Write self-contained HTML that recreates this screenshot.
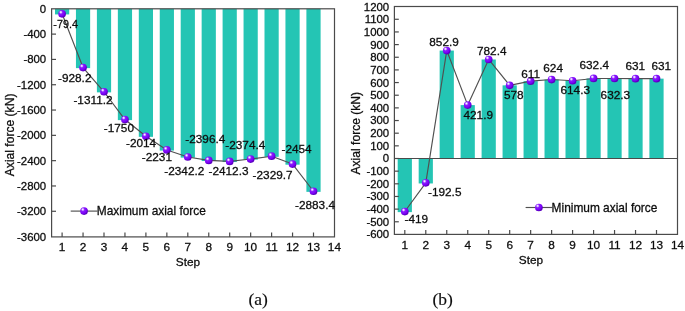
<!DOCTYPE html>
<html lang="en"><head><meta charset="utf-8"><title>Axial force per step</title>
<style>
html,body{margin:0;padding:0;background:#fff;}
body{width:685px;height:311px;overflow:hidden;}
svg{display:block;will-change:transform;opacity:0.999;}
text{font-family:"Liberation Sans",Arial,sans-serif;font-size:11.8px;fill:#0d0d0d;stroke:#0d0d0d;stroke-width:0.28px;}
.yt text{font-size:11.4px;}
.cap{font-family:"Liberation Serif","Times New Roman",serif;font-size:17.5px;fill:#0d0d0d;stroke-width:0.15px;}
</style></head><body>
<svg width="685" height="311" viewBox="0 0 685 311">
<defs>
<radialGradient id="ball" cx="0.36" cy="0.32" r="0.62" fx="0.33" fy="0.28">
<stop offset="0" stop-color="#ffffff"/>
<stop offset="0.12" stop-color="#e9d6ff"/>
<stop offset="0.38" stop-color="#8a1bff"/>
<stop offset="0.8" stop-color="#7a00f5"/>
<stop offset="1" stop-color="#5a00c0"/>
</radialGradient>
</defs>
<rect width="685" height="311" fill="#ffffff"/>

<g fill="#24c5b4">
<rect x="55.00" y="8.80" width="14.20" height="5.62"/>
<rect x="75.95" y="8.80" width="14.20" height="59.33"/>
<rect x="96.90" y="8.80" width="14.20" height="83.57"/>
<rect x="117.85" y="8.80" width="14.20" height="111.33"/>
<rect x="138.80" y="8.80" width="14.20" height="128.04"/>
<rect x="159.75" y="8.80" width="14.20" height="141.77"/>
<rect x="180.70" y="8.80" width="14.20" height="148.80"/>
<rect x="201.65" y="8.80" width="14.20" height="152.23"/>
<rect x="222.60" y="8.80" width="14.20" height="153.24"/>
<rect x="243.55" y="8.80" width="14.20" height="150.84"/>
<rect x="264.50" y="8.80" width="14.20" height="148.01"/>
<rect x="285.45" y="8.80" width="14.20" height="155.88"/>
<rect x="306.40" y="8.80" width="14.20" height="183.05"/>
</g>
<g stroke="#4a4a4a" stroke-width="1.2" fill="none">
<rect x="51.60" y="8.80" width="282.90" height="228.10"/>
<line x1="62.10" y1="236.90" x2="62.10" y2="232.50"/>
<line x1="83.05" y1="236.90" x2="83.05" y2="232.50"/>
<line x1="104.00" y1="236.90" x2="104.00" y2="232.50"/>
<line x1="124.95" y1="236.90" x2="124.95" y2="232.50"/>
<line x1="145.90" y1="236.90" x2="145.90" y2="232.50"/>
<line x1="166.85" y1="236.90" x2="166.85" y2="232.50"/>
<line x1="187.80" y1="236.90" x2="187.80" y2="232.50"/>
<line x1="208.75" y1="236.90" x2="208.75" y2="232.50"/>
<line x1="229.70" y1="236.90" x2="229.70" y2="232.50"/>
<line x1="250.65" y1="236.90" x2="250.65" y2="232.50"/>
<line x1="271.60" y1="236.90" x2="271.60" y2="232.50"/>
<line x1="292.55" y1="236.90" x2="292.55" y2="232.50"/>
<line x1="313.50" y1="236.90" x2="313.50" y2="232.50"/>
<line x1="51.60" y1="34.11" x2="56.00" y2="34.11"/>
<line x1="51.60" y1="59.42" x2="56.00" y2="59.42"/>
<line x1="51.60" y1="84.73" x2="56.00" y2="84.73"/>
<line x1="51.60" y1="110.04" x2="56.00" y2="110.04"/>
<line x1="51.60" y1="135.35" x2="56.00" y2="135.35"/>
<line x1="51.60" y1="160.66" x2="56.00" y2="160.66"/>
<line x1="51.60" y1="185.97" x2="56.00" y2="185.97"/>
<line x1="51.60" y1="211.28" x2="56.00" y2="211.28"/>
</g>
<g class="yt" text-anchor="end">
<text x="46.2" y="12.7">0</text>
<text x="46.2" y="38.0">-400</text>
<text x="46.2" y="63.3">-800</text>
<text x="46.2" y="88.6">-1200</text>
<text x="46.2" y="113.9">-1600</text>
<text x="46.2" y="139.2">-2000</text>
<text x="46.2" y="164.6">-2400</text>
<text x="46.2" y="189.9">-2800</text>
<text x="46.2" y="215.2">-3200</text>
<text x="46.2" y="240.5">-3600</text>
</g>
<g text-anchor="middle">
<text x="62.1" y="251.0">1</text>
<text x="83.0" y="251.0">2</text>
<text x="104.0" y="251.0">3</text>
<text x="124.9" y="251.0">4</text>
<text x="145.9" y="251.0">5</text>
<text x="166.8" y="251.0">6</text>
<text x="187.8" y="251.0">7</text>
<text x="208.8" y="251.0">8</text>
<text x="229.7" y="251.0">9</text>
<text x="250.6" y="251.0">10</text>
<text x="271.6" y="251.0">11</text>
<text x="292.6" y="251.0">12</text>
<text x="313.5" y="251.0">13</text>
<text x="334.4" y="251.0">14</text>
<text x="188.0" y="266.2">Step</text>
<text transform="translate(13.7 134.9) rotate(-90)" style="font-size:12.1px">Axial force (kN)</text>
</g>
<polyline points="62.10,13.82 83.05,67.53 104.00,91.77 124.95,119.53 145.90,136.24 166.85,149.97 187.80,157.00 208.75,160.43 229.70,161.44 250.65,159.04 271.60,156.21 292.55,164.08 313.50,191.25" fill="none" stroke="#505050" stroke-width="1.15" stroke-linejoin="round"/>
<line x1="70.7" y1="211.1" x2="97.4" y2="211.1" stroke="#505050" stroke-width="1.15"/>
<circle cx="84.05" cy="211.10" r="3.85" fill="url(#ball)"/>
<text x="96.8" y="215.2" style="font-size:11.9px">Maximum axial force</text>
<circle cx="62.10" cy="13.82" r="3.85" fill="url(#ball)"/>
<circle cx="83.05" cy="67.53" r="3.85" fill="url(#ball)"/>
<circle cx="104.00" cy="91.77" r="3.85" fill="url(#ball)"/>
<circle cx="124.95" cy="119.53" r="3.85" fill="url(#ball)"/>
<circle cx="145.90" cy="136.24" r="3.85" fill="url(#ball)"/>
<circle cx="166.85" cy="149.97" r="3.85" fill="url(#ball)"/>
<circle cx="187.80" cy="157.00" r="3.85" fill="url(#ball)"/>
<circle cx="208.75" cy="160.43" r="3.85" fill="url(#ball)"/>
<circle cx="229.70" cy="161.44" r="3.85" fill="url(#ball)"/>
<circle cx="250.65" cy="159.04" r="3.85" fill="url(#ball)"/>
<circle cx="271.60" cy="156.21" r="3.85" fill="url(#ball)"/>
<circle cx="292.55" cy="164.08" r="3.85" fill="url(#ball)"/>
<circle cx="313.50" cy="191.25" r="3.85" fill="url(#ball)"/>
<text x="53.3" y="27.7" textLength="24.6" lengthAdjust="spacingAndGlyphs">-79.4</text>
<text x="58.0" y="81.6">-928.2</text>
<text x="73.4" y="104.0">-1311.2</text>
<text x="103.8" y="132.3">-1750</text>
<text x="126.0" y="147.4">-2014</text>
<text x="141.8" y="161.3">-2231</text>
<text x="164.3" y="175.2">-2342.2</text>
<text x="185.3" y="143.1">-2396.4</text>
<text x="208.5" y="175.1">-2412.3</text>
<text x="225.3" y="149.0">-2374.4</text>
<text x="252.6" y="179.3">-2329.7</text>
<text x="281.5" y="152.9">-2454</text>
<text x="295.0" y="208.6">-2883.4</text>
<g fill="#24c5b4">
<rect x="397.70" y="158.50" width="14.20" height="53.63"/>
<rect x="418.68" y="158.50" width="14.20" height="24.96"/>
<rect x="439.65" y="50.56" width="14.20" height="107.94"/>
<rect x="460.62" y="105.10" width="14.20" height="53.40"/>
<rect x="481.60" y="59.48" width="14.20" height="99.02"/>
<rect x="502.57" y="85.35" width="14.20" height="73.15"/>
<rect x="523.55" y="81.17" width="14.20" height="77.33"/>
<rect x="544.52" y="79.53" width="14.20" height="78.97"/>
<rect x="565.50" y="80.75" width="14.20" height="77.75"/>
<rect x="586.48" y="78.46" width="14.20" height="80.04"/>
<rect x="607.45" y="78.48" width="14.20" height="80.02"/>
<rect x="628.43" y="78.64" width="14.20" height="79.86"/>
<rect x="649.40" y="78.64" width="14.20" height="79.86"/>
</g>
<g stroke="#4a4a4a" stroke-width="1.2" fill="none">
<rect x="394.40" y="6.50" width="283.10" height="227.90"/>
<line x1="394.40" y1="158.50" x2="677.50" y2="158.50"/>
<line x1="404.80" y1="234.40" x2="404.80" y2="230.00"/>
<line x1="425.78" y1="234.40" x2="425.78" y2="230.00"/>
<line x1="446.75" y1="234.40" x2="446.75" y2="230.00"/>
<line x1="467.73" y1="234.40" x2="467.73" y2="230.00"/>
<line x1="488.70" y1="234.40" x2="488.70" y2="230.00"/>
<line x1="509.68" y1="234.40" x2="509.68" y2="230.00"/>
<line x1="530.65" y1="234.40" x2="530.65" y2="230.00"/>
<line x1="551.62" y1="234.40" x2="551.62" y2="230.00"/>
<line x1="572.60" y1="234.40" x2="572.60" y2="230.00"/>
<line x1="593.58" y1="234.40" x2="593.58" y2="230.00"/>
<line x1="614.55" y1="234.40" x2="614.55" y2="230.00"/>
<line x1="635.53" y1="234.40" x2="635.53" y2="230.00"/>
<line x1="656.50" y1="234.40" x2="656.50" y2="230.00"/>
<line x1="394.40" y1="19.28" x2="398.80" y2="19.28"/>
<line x1="394.40" y1="31.94" x2="398.80" y2="31.94"/>
<line x1="394.40" y1="44.60" x2="398.80" y2="44.60"/>
<line x1="394.40" y1="57.25" x2="398.80" y2="57.25"/>
<line x1="394.40" y1="69.91" x2="398.80" y2="69.91"/>
<line x1="394.40" y1="82.56" x2="398.80" y2="82.56"/>
<line x1="394.40" y1="95.22" x2="398.80" y2="95.22"/>
<line x1="394.40" y1="107.88" x2="398.80" y2="107.88"/>
<line x1="394.40" y1="120.53" x2="398.80" y2="120.53"/>
<line x1="394.40" y1="133.19" x2="398.80" y2="133.19"/>
<line x1="394.40" y1="145.84" x2="398.80" y2="145.84"/>
<line x1="394.40" y1="158.50" x2="398.80" y2="158.50"/>
<line x1="394.40" y1="171.16" x2="398.80" y2="171.16"/>
<line x1="394.40" y1="183.81" x2="398.80" y2="183.81"/>
<line x1="394.40" y1="196.47" x2="398.80" y2="196.47"/>
<line x1="394.40" y1="209.12" x2="398.80" y2="209.12"/>
<line x1="394.40" y1="221.78" x2="398.80" y2="221.78"/>
</g>
<g class="yt" text-anchor="end">
<text x="389.2" y="10.5">1200</text>
<text x="389.2" y="23.2">1100</text>
<text x="389.2" y="35.8">1000</text>
<text x="389.2" y="48.5">900</text>
<text x="389.2" y="61.2">800</text>
<text x="389.2" y="73.8">700</text>
<text x="389.2" y="86.5">600</text>
<text x="389.2" y="99.1">500</text>
<text x="389.2" y="111.8">400</text>
<text x="389.2" y="124.4">300</text>
<text x="389.2" y="137.1">200</text>
<text x="389.2" y="149.7">100</text>
<text x="389.2" y="162.4">0</text>
<text x="389.2" y="175.1">-100</text>
<text x="389.2" y="187.7">-200</text>
<text x="389.2" y="200.4">-300</text>
<text x="389.2" y="213.0">-400</text>
<text x="389.2" y="225.7">-500</text>
<text x="389.2" y="238.3">-600</text>
</g>
<g text-anchor="middle">
<text x="404.8" y="248.6">1</text>
<text x="425.8" y="248.6">2</text>
<text x="446.8" y="248.6">3</text>
<text x="467.7" y="248.6">4</text>
<text x="488.7" y="248.6">5</text>
<text x="509.7" y="248.6">6</text>
<text x="530.6" y="248.6">7</text>
<text x="551.6" y="248.6">8</text>
<text x="572.6" y="248.6">9</text>
<text x="593.6" y="248.6">10</text>
<text x="614.5" y="248.6">11</text>
<text x="635.5" y="248.6">12</text>
<text x="656.5" y="248.6">13</text>
<text x="677.5" y="248.6">14</text>
<text x="531.0" y="263.8">Step</text>
<text transform="translate(360.0 133.2) rotate(-90)" style="font-size:12.1px">Axial force (kN)</text>
</g>
<polyline points="404.80,211.53 425.78,182.86 446.75,50.56 467.73,105.10 488.70,59.48 509.68,85.35 530.65,81.17 551.62,79.53 572.60,80.75 593.58,78.46 614.55,78.48 635.53,78.64 656.50,78.64" fill="none" stroke="#505050" stroke-width="1.15" stroke-linejoin="round"/>
<line x1="525.6" y1="207.5" x2="552.2" y2="207.5" stroke="#505050" stroke-width="1.15"/>
<circle cx="538.90" cy="207.50" r="3.85" fill="url(#ball)"/>
<text x="551.6" y="211.6" style="font-size:11.9px">Minimum axial force</text>
<circle cx="404.80" cy="211.53" r="3.85" fill="url(#ball)"/>
<circle cx="425.78" cy="182.86" r="3.85" fill="url(#ball)"/>
<circle cx="446.75" cy="50.56" r="3.85" fill="url(#ball)"/>
<circle cx="467.73" cy="105.10" r="3.85" fill="url(#ball)"/>
<circle cx="488.70" cy="59.48" r="3.85" fill="url(#ball)"/>
<circle cx="509.68" cy="85.35" r="3.85" fill="url(#ball)"/>
<circle cx="530.65" cy="81.17" r="3.85" fill="url(#ball)"/>
<circle cx="551.62" cy="79.53" r="3.85" fill="url(#ball)"/>
<circle cx="572.60" cy="80.75" r="3.85" fill="url(#ball)"/>
<circle cx="593.58" cy="78.46" r="3.85" fill="url(#ball)"/>
<circle cx="614.55" cy="78.48" r="3.85" fill="url(#ball)"/>
<circle cx="635.53" cy="78.64" r="3.85" fill="url(#ball)"/>
<circle cx="656.50" cy="78.64" r="3.85" fill="url(#ball)"/>
<text x="404.5" y="222.5">-419</text>
<text x="428.0" y="195.6">-192.5</text>
<text x="429.3" y="45.6">852.9</text>
<text x="463.5" y="118.8">421.9</text>
<text x="477.0" y="54.9">782.4</text>
<text x="504.0" y="99.2">578</text>
<text x="521.2" y="77.5">611</text>
<text x="543.3" y="72.1">624</text>
<text x="560.5" y="94.0">614.3</text>
<text x="579.5" y="68.5">632.4</text>
<text x="600.6" y="98.6">632.3</text>
<text x="625.5" y="69.5">631</text>
<text x="651.5" y="69.5">631</text>
<text class="cap" x="248.5" y="304.8">(a)</text>
<text class="cap" x="432.5" y="304.8">(b)</text>
</svg></body></html>
